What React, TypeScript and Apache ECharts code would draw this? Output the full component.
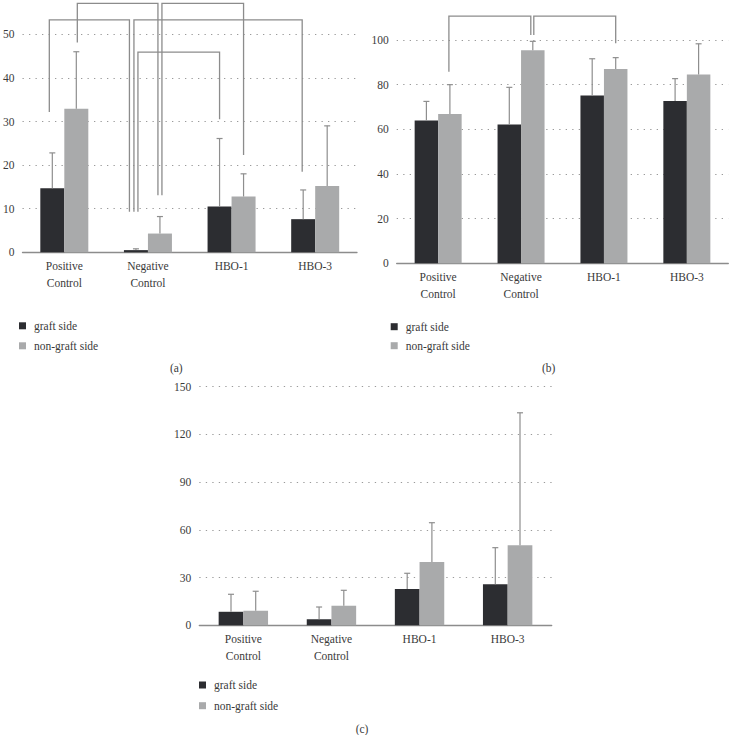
import React, { useEffect, useRef } from "react";
import * as echarts from "echarts";

const categories = ["Positive\nControl", "Negative\nControl", "HBO-1", "HBO-3"];
const seriesNames = ["graft side", "non-graft side"];
const panelLabels = ["(a)", "(b)", "(c)"];

// Panel (a)
const aGraft = [14.7, 0.5, 10.5, 7.6];
const aGraftErr = [22.8, 0.8, 26.1, 14.3];
const aNonGraft = [32.9, 4.3, 12.8, 15.2];
const aNonGraftErr = [46.0, 8.2, 18.0, 29.0];
const aAxis = { max: 50, interval: 10 };
// brackets: [fromCategory, fromSide, toCategory, toSide, level, leftLegEnd, rightLegEnd]
const aBrackets = [
  [0, 0, 1, 0, 53.3, 32.2, 9.3],
  [0, 1, 1, 1, 57.1, 48.1, 13.1],
  [1, 1, 2, 1, 57.1, 13.1, 22.3],
  [1, 0, 3, 0, 53.3, 9.3, 18.5],
  [1, 0, 2, 0, 45.9, 9.3, 30.5],
];

// Panel (b)
const bGraft = [63.9, 62.2, 75.2, 72.7];
const bGraftErr = [72.5, 78.8, 91.6, 82.7];
const bNonGraft = [66.9, 95.4, 87.0, 84.5];
const bNonGraftErr = [80.0, 99.4, 92.1, 98.3];
const bAxis = { max: 100, interval: 20 };
const bBrackets = [
  [0, 1, 1, 1, 110.7, 85.8, 102.2],
  [1, 1, 2, 1, 110.7, 102.2, 98.5],
];

// Panel (c)
const cGraft = [8.5, 3.8, 22.8, 25.8];
const cGraftErr = [19.5, 11.5, 32.7, 48.8];
const cNonGraft = [9.2, 12.3, 39.8, 50.3];
const cNonGraftErr = [21.4, 22.0, 64.5, 133.6];
const cAxis = { max: 150, interval: 30 };

// ---- styling / layout (not data) ----
const FONT = "'Liberation Serif', 'DejaVu Serif', serif";
const DARK = "#2c2d31";
const LIGHT = "#a9aaab";
const LINE = "#8c8c8c";
const TEXT = "#3a3a3a";

const grids = [
  { left: 18, top: 34.3, width: 339, height: 218 },
  { left: 396.7, top: 40, width: 331.6, height: 223.3 },
  { left: 199.3, top: 386.7, width: 352.4, height: 238.6 },
];
const barWidths = [24, 23.5, 24.7];
const aNudges = [
  [-3, -6.5],
  [1, -2],
  [2, 0],
  [-2, -1],
  [2, 0],
];
const bNudges = [
  [-1, -2],
  [1, 0],
];
const legendPos = [
  { left: 19, top: 318.8, gap: 6 },
  { left: 390.7, top: 319.7, gap: 5 },
  { left: 199, top: 678, gap: 6.7 },
];
const labelPos = [
  { x: 176.3, y: 368.3 },
  { x: 548.7, y: 368.3 },
  { x: 362, y: 729 },
];

function errRender(offset: number) {
  return (params: any, api: any) => {
    const c = api.value(0);
    const m = api.value(1);
    const u = api.value(2);
    const p0 = api.coord([c, m]);
    const p1 = api.coord([c, u]);
    const x = p0[0] + offset;
    const st = { stroke: "#8e8e8e", lineWidth: 1.2, fill: null };
    return {
      type: "group",
      children: [
        { type: "line", shape: { x1: x, y1: p0[1], x2: x, y2: p1[1] }, style: st },
        { type: "line", shape: { x1: x - 3, y1: p1[1], x2: x + 3, y2: p1[1] }, style: st },
      ],
    };
  };
}

function bracketRender(bw: number, nudges: number[][]) {
  return (params: any, api: any) => {
    const i = params.dataIndex;
    const fc = api.value(0);
    const fs = api.value(1);
    const tc = api.value(2);
    const ts = api.value(3);
    const lvl = api.value(4);
    const le = api.value(5);
    const re = api.value(6);
    const [n1, n2] = nudges[i];
    const x1 = api.coord([fc, lvl])[0] + (fs ? 1 : -1) * (bw / 2) + n1;
    const x2 = api.coord([tc, lvl])[0] + (ts ? 1 : -1) * (bw / 2) + n2;
    const yL = api.coord([fc, lvl])[1];
    const y1 = api.coord([fc, le])[1];
    const y2 = api.coord([tc, re])[1];
    return {
      type: "polyline",
      shape: { points: [[x1, y1], [x1, yL], [x2, yL], [x2, y2]] },
      style: { fill: null, stroke: LINE, lineWidth: 1.3 },
    };
  };
}

function buildPanel(
  idx: number,
  graft: number[],
  graftErr: number[],
  non: number[],
  nonErr: number[],
  brackets: number[][] | null,
  nudges: number[][] | null
) {
  const bw = barWidths[idx];
  const series: any[] = [
    {
      type: "bar",
      name: seriesNames[0],
      xAxisIndex: idx,
      yAxisIndex: idx,
      data: graft,
      barWidth: bw,
      barGap: "0%",
      itemStyle: { color: DARK },
    },
    {
      type: "bar",
      name: seriesNames[1],
      xAxisIndex: idx,
      yAxisIndex: idx,
      data: non,
      barWidth: bw,
      barGap: "0%",
      itemStyle: { color: LIGHT },
    },
    {
      type: "custom",
      name: "err-g-" + idx,
      xAxisIndex: idx,
      yAxisIndex: idx,
      clip: false,
      z: 5,
      encode: { x: 0, y: [1, 2] },
      renderItem: errRender(-bw / 2),
      data: graft.map((v, i) => [i, v, graftErr[i]]),
    },
    {
      type: "custom",
      name: "err-n-" + idx,
      xAxisIndex: idx,
      yAxisIndex: idx,
      clip: false,
      z: 5,
      encode: { x: 0, y: [1, 2] },
      renderItem: errRender(bw / 2),
      data: non.map((v, i) => [i, v, nonErr[i]]),
    },
  ];
  if (brackets && nudges) {
    series.push({
      type: "custom",
      name: "brk-" + idx,
      xAxisIndex: idx,
      yAxisIndex: idx,
      clip: false,
      z: 6,
      encode: { x: [0, 2], y: [4, 5, 6] },
      renderItem: bracketRender(bw, nudges),
      data: brackets,
    });
  }
  return series;
}

export default function App() {
  const ref = useRef<HTMLDivElement>(null);
  useEffect(() => {
    if (!ref.current) return;
    const chart = echarts.init(ref.current, undefined, { renderer: "svg" });
    const axesDefs = [aAxis, bAxis, cAxis];
    const option: any = {
      animation: false,
      backgroundColor: "#ffffff",
      textStyle: { fontFamily: FONT },
      grid: grids.map((g) => ({ ...g, containLabel: false })),
      xAxis: grids.map((_, i) => ({
        type: "category",
        gridIndex: i,
        data: categories,
        axisLine: { show: true, lineStyle: { color: LINE, width: 1.3 } },
        axisTick: { show: false },
        splitLine: { show: false },
        axisLabel: {
          interval: 0,
          fontFamily: FONT,
          fontSize: 11.5,
          color: TEXT,
          lineHeight: 17,
          margin: 5,
        },
      })),
      yAxis: axesDefs.map((a, i) => ({
        type: "value",
        gridIndex: i,
        min: 0,
        max: a.max,
        interval: a.interval,
        axisLine: { show: false },
        axisTick: { show: false },
        axisLabel: { fontFamily: FONT, fontSize: 11.5, color: TEXT, margin: 8 },
        splitLine: {
          show: true,
          lineStyle: { type: [1.3, 5.2], color: "#9a9a9a", width: 1.2 },
        },
      })),
      legend: legendPos.map((p) => ({
        left: p.left,
        top: p.top,
        padding: 0,
        orient: "vertical",
        data: seriesNames,
        icon: "rect",
        itemWidth: 7,
        itemHeight: 7,
        itemGap: p.gap,
        selectedMode: false,
        textStyle: {
          fontFamily: FONT,
          fontSize: 11.5,
          color: TEXT,
          lineHeight: 14,
          padding: [0, 0, 0, 3],
        },
      })),
      graphic: panelLabels.map((t, i) => ({
        type: "text",
        x: labelPos[i].x,
        y: labelPos[i].y,
        style: {
          text: t,
          fontFamily: FONT,
          fontSize: 11.5,
          fill: TEXT,
          textAlign: "center",
          textVerticalAlign: "middle",
        },
      })),
      series: [
        ...buildPanel(0, aGraft, aGraftErr, aNonGraft, aNonGraftErr, aBrackets, aNudges),
        ...buildPanel(1, bGraft, bGraftErr, bNonGraft, bNonGraftErr, bBrackets, bNudges),
        ...buildPanel(2, cGraft, cGraftErr, cNonGraft, cNonGraftErr, null, null),
      ],
    };
    chart.setOption(option);
    return () => chart.dispose();
  }, []);
  return (
    <div
      ref={ref}
      style={{ position: "absolute", left: 0, top: 0, width: 740, height: 735 }}
    />
  );
}
